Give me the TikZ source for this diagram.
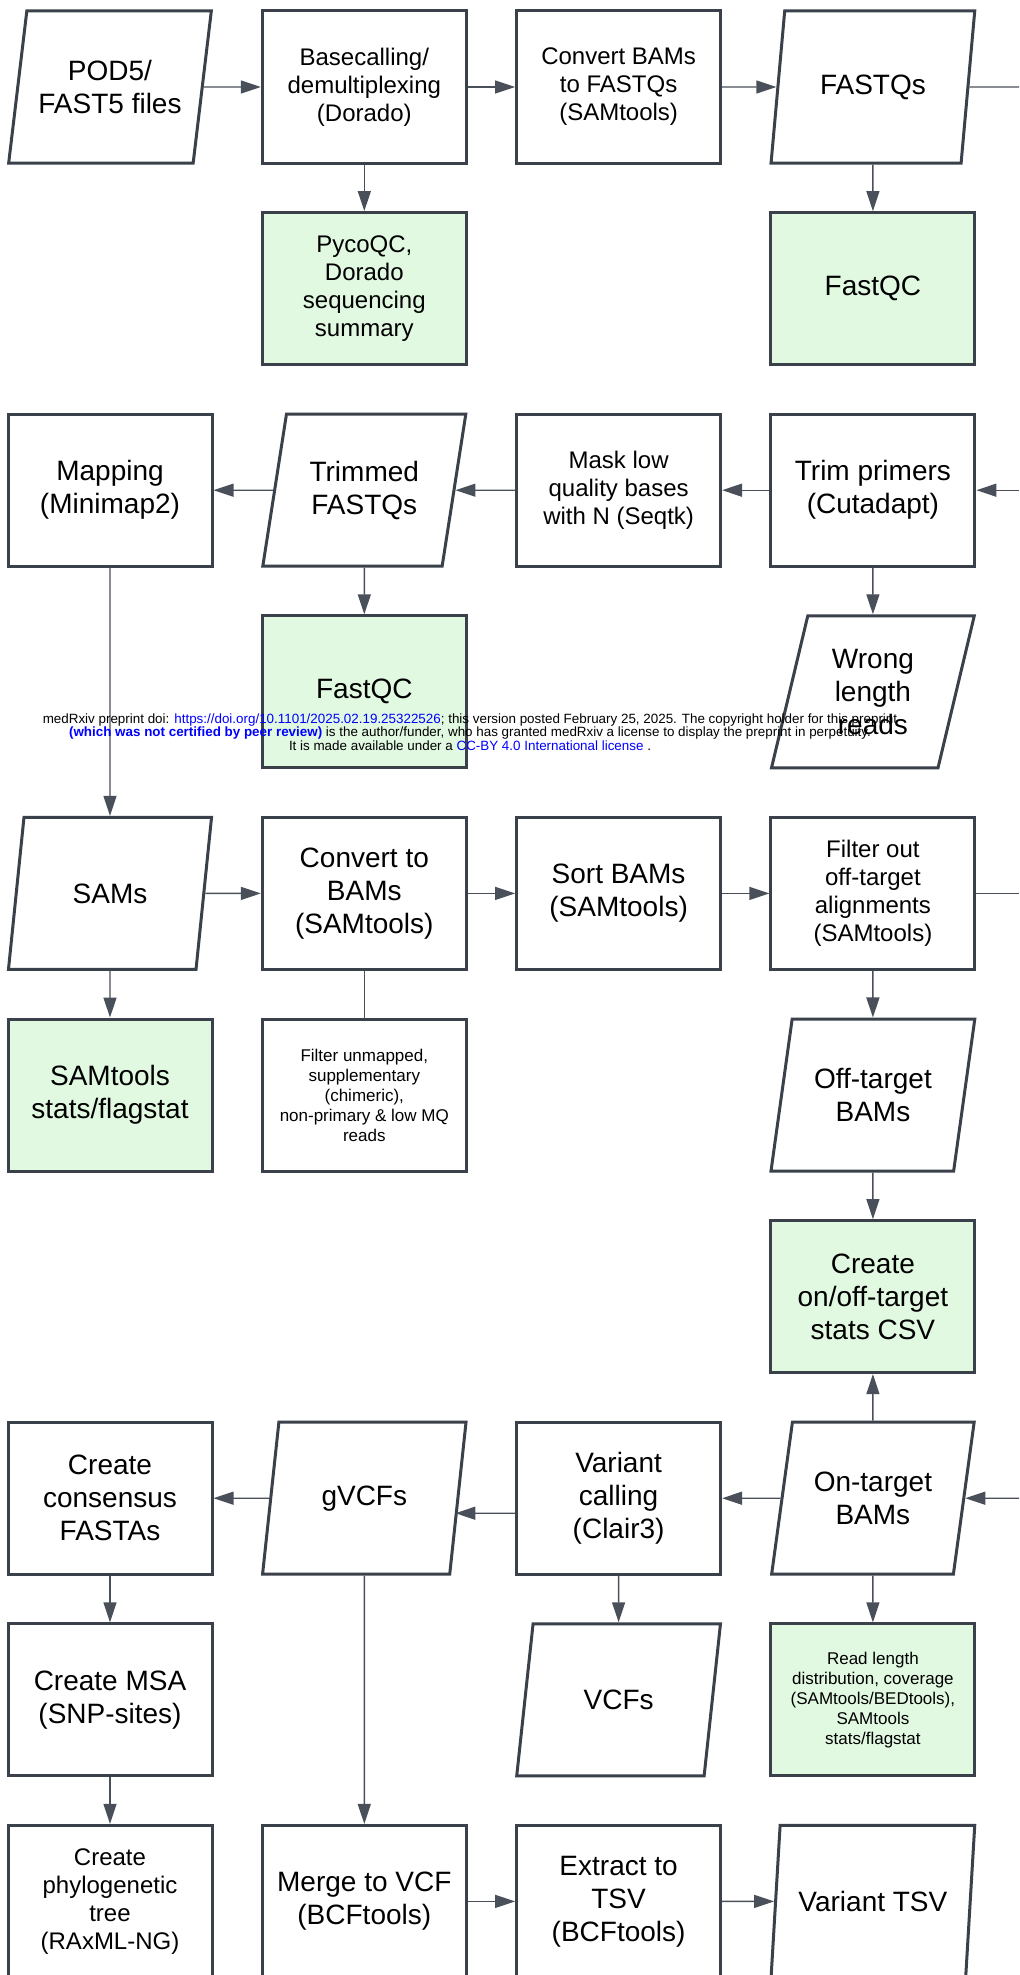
\documentclass[tikz,border=0pt]{standalone}
\usepackage{fontspec}
\setmainfont{Liberation Sans}
\usetikzlibrary{arrows.meta,shapes.geometric}
\definecolor{edge}{HTML}{3A414A}
\definecolor{wire}{HTML}{4A5059}
\definecolor{qcgreen}{HTML}{E1F8E1}
\definecolor{linkblue}{HTML}{0000FF}
\tikzset{
  procbox/.style={draw=edge,line width=1.5pt,rectangle,minimum width=102pt,minimum height=76pt,
    inner sep=2pt,align=center,font=\fontsize{14}{16.5}\selectfont},
  databox/.style={procbox,trapezium,trapezium left angle=75,trapezium right angle=105,
    trapezium stretches=true},
  qcbox/.style={procbox,fill=qcgreen},
  midtext/.style={font=\fontsize{12}{14}\selectfont},
  smalltext/.style={font=\fontsize{8.5}{10}\selectfont},
  flow/.style={draw=wire,line width=0.7pt,-{Triangle[length=10pt,width=6.5pt]}},
  plainwire/.style={draw=wire,line width=0.7pt},
}
\begin{document}
\begin{tikzpicture}[x=0.5pt,y=-0.5pt,declare function={cx(\c)=110+254.3*\c; ry(\r)=87+201.6*\r;}]
\useasboundingbox (0,0) rectangle (1019,1975);
\clip (0,0) rectangle (1019,1975);
% basecalling
\node[databox] (pod) at ({cx(0)},{ry(0)}) {POD5/\\FAST5 files};
\node[procbox,midtext] (basecall) at ({cx(1)},{ry(0)}) {Basecalling/\\demultiplexing\\(Dorado)};
\node[procbox,midtext] (tofq) at ({cx(2)},{ry(0)}) {Convert BAMs\\to FASTQs\\(SAMtools)};
\node[databox] (fastq) at ({cx(3)},{ry(0)}) {FASTQs};
\node[qcbox,midtext] (pyco) at ({cx(1)},{ry(1)}) {PycoQC,\\Dorado\\sequencing\\summary};
\node[qcbox] (fqc) at ({cx(3)},{ry(1)}) {FastQC};
% trimming and mapping
\node[procbox] (mapping) at ({cx(0)},{ry(2)}) {Mapping\\(Minimap2)};
\node[databox] (trimfq) at ({cx(1)},{ry(2)}) {Trimmed\\FASTQs};
\node[procbox,midtext] (mask) at ({cx(2)},{ry(2)}) {Mask low\\quality bases\\with N (Seqtk)};
\node[procbox] (trim) at ({cx(3)},{ry(2)}) {Trim primers\\(Cutadapt)};
\node[qcbox] (tfqc) at ({cx(1)},{ry(3)}) {FastQC};
\node[databox] (wrong) at ({cx(3)},{ry(3)}) {Wrong\\length\\reads};
% alignments
\node[databox] (sams) at ({cx(0)},{ry(4)}) {SAMs};
\node[procbox] (tobam) at ({cx(1)},{ry(4)}) {Convert to\\BAMs\\(SAMtools)};
\node[procbox] (sortbam) at ({cx(2)},{ry(4)}) {Sort BAMs\\(SAMtools)};
\node[procbox,midtext] (offfilt) at ({cx(3)},{ry(4)}) {Filter out\\off-target\\alignments\\(SAMtools)};
\node[qcbox] (samstat) at ({cx(0)},{ry(5)}) {SAMtools\\stats/flagstat};
\node[procbox,smalltext] (unmap) at ({cx(1)},{ry(5)}) {Filter unmapped,\\supplementary\\(chimeric),\\non-primary \& low MQ\\reads};
\node[databox] (offbam) at ({cx(3)},{ry(5)}) {Off-target\\BAMs};
\node[qcbox] (csv) at ({cx(3)},{ry(6)}) {Create\\on/off-target\\stats CSV};
% variants
\node[procbox] (cons) at ({cx(0)},{ry(7)}) {Create\\consensus\\FASTAs};
\node[databox] (gvcf) at ({cx(1)},{ry(7)}) {gVCFs};
\node[procbox] (call) at ({cx(2)},{ry(7)}) {Variant\\calling\\(Clair3)};
\node[databox] (onbam) at ({cx(3)},{ry(7)}) {On-target\\BAMs};
\node[procbox] (msa) at ({cx(0)},{ry(8)}) {Create MSA\\(SNP-sites)};
\node[databox] (vcf) at ({cx(2)},{ry(8)}) {VCFs};
\node[qcbox,smalltext] (readlen) at ({cx(3)},{ry(8)}) {Read length\\distribution, coverage\\(SAMtools/BEDtools),\\SAMtools\\stats/flagstat};
\node[procbox,midtext] (tree) at ({cx(0)},{ry(9)}) {Create\\phylogenetic\\tree\\(RAxML-NG)};
\node[procbox] (merge) at ({cx(1)},{ry(9)}) {Merge to VCF\\(BCFtools)};
\node[procbox] (extract) at ({cx(2)},{ry(9)}) {Extract to\\TSV\\(BCFtools)};
\node[databox] (tsv) at ({cx(3)},{ry(9)}) {Variant TSV};
% wires running off the right side
\path
  (1019,{ry(0)}) coordinate (outA)
  (1019,{ry(2)}) coordinate (inA)
  (1019,{ry(4)}) coordinate (outB)
  (1019,{ry(7)}) coordinate (inB);
\foreach \a/\b in {pod/basecall,basecall/tofq,tofq/fastq,basecall/pyco,fastq/fqc,
  inA/trim,trim/mask,mask/trimfq,trimfq/mapping,trim/wrong,trimfq/tfqc,mapping/sams,
  sams/tobam,tobam/sortbam,sortbam/offfilt,sams/samstat,offfilt/offbam,offbam/csv,onbam/csv,
  inB/onbam,onbam/call,gvcf/cons,cons/msa,msa/tree,gvcf/merge,call/vcf,onbam/readlen,
  merge/extract,extract/tsv}
  \draw[flow] (\a) -- (\b);
\draw[plainwire] (fastq) -- (outA);
\draw[plainwire] (offfilt) -- (outB);
\draw[plainwire] (tobam) -- (unmap);
\draw[flow] ([yshift=-7.5pt]call.west) -- ([shift={(-2pt,-7.5pt)}]gvcf.east);
% preprint notice
\node[font=\fontsize{6.7}{6.75}\selectfont,align=center,inner sep=0pt] (notice) at (470,732)
  {medRxiv preprint doi: \textcolor{linkblue}{https://doi.org/10.1101/2025.02.19.25322526}; this version posted February 25, 2025. The copyright holder for this preprint\\
  \textcolor{linkblue}{\bfseries (which was not certified by peer review)} is the author/funder, who has granted medRxiv a license to display the preprint in perpetuity.\\
  It is made available under a \textcolor{linkblue}{CC-BY 4.0 International license} .};
\end{tikzpicture}
\end{document}
